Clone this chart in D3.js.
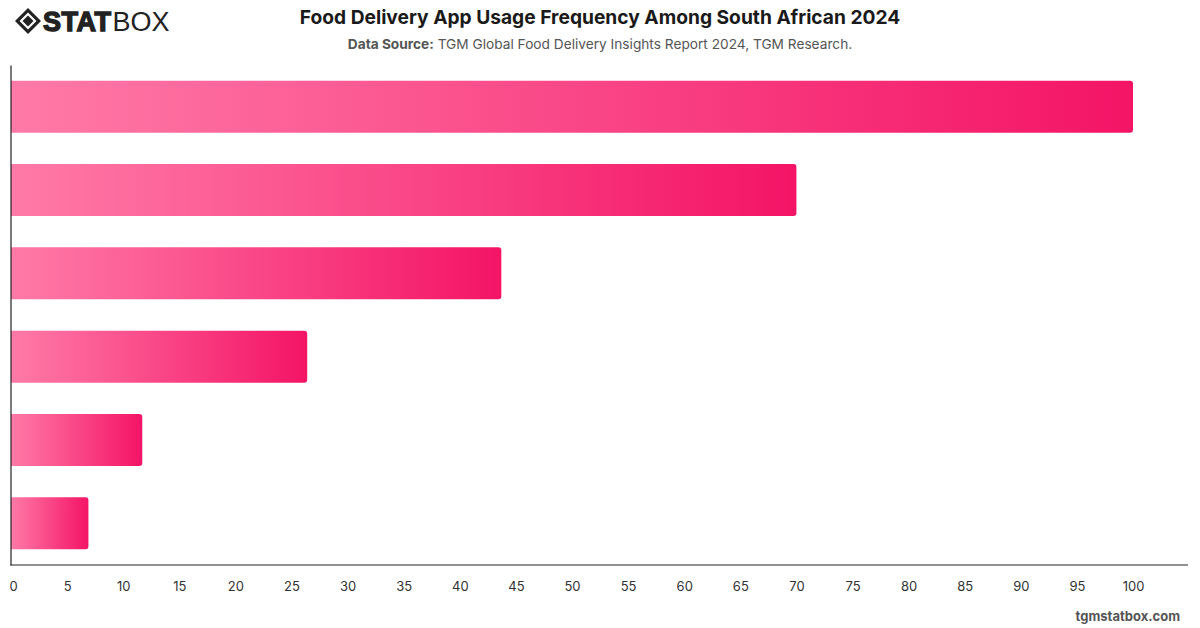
<!DOCTYPE html>
<html>
<head>
<meta charset="utf-8">
<script src="https://cdn.jsdelivr.net/npm/d3@7"></script>
<style>
  html, body { margin: 0; padding: 0; background: #fff; }
  svg { display: block; font-family: Inter, "Liberation Sans", Arial, sans-serif; }
</style>
</head>
<body>
<svg id="chart" width="1200" height="628"></svg>
<script>
const categories = ["Category 1", "Category 2", "Category 3", "Category 4", "Category 5", "Category 6"];
const values = [100, 70, 43.7, 26.4, 11.7, 6.9];
const tickValues = [0, 5, 10, 15, 20, 25, 30, 35, 40, 45, 50, 55, 60, 65, 70, 75, 80, 85, 90, 95, 100];
const titleText = "Food Delivery App Usage Frequency Among South African 2024";
const sourceLabel = "Data Source:";
const sourceText = " TGM Global Food Delivery Insights Report 2024, TGM Research.";
const footerText = "tgmstatbox.com";

const svg = d3.select("#chart");
const W = 1200, H = 628;
const margin = {left: 11, right: 12, top: 65, bottom: 63};

const x = d3.scaleLinear().domain([0, 104.9]).range([margin.left, W - margin.right]);
const y = d3.scaleBand().domain(categories).range([margin.top, H - margin.bottom]).paddingInner(0.376).paddingOuter(0.188);

// gradients
const defs = svg.append("defs");
values.forEach((v, i) => {
  const g = defs.append("linearGradient").attr("id", "grad" + i)
    .attr("x1", "0%").attr("x2", "100%").attr("y1", "0%").attr("y2", "0%");
  g.append("stop").attr("offset", "0%").attr("stop-color", "#ff7aa7");
  g.append("stop").attr("offset", "100%").attr("stop-color", "#f41466");
});

// bars: square left, rounded right
const r = 3;
svg.append("g").selectAll("path").data(values).join("path")
  .attr("d", (d, i) => {
    const x0 = x(0), x1 = x(d), y0 = y(categories[i]), h = y.bandwidth();
    return `M${x0},${y0} H${x1 - r} Q${x1},${y0} ${x1},${y0 + r} V${y0 + h - r} Q${x1},${y0 + h} ${x1 - r},${y0 + h} H${x0} Z`;
  })
  .attr("fill", (d, i) => `url(#grad${i})`);

// axes
const yAxis = d3.axisLeft(y).tickSize(0).tickFormat("");
svg.append("g").attr("transform", `translate(${x(0) - 0.5},0)`).call(yAxis)
  .call(g => g.select(".domain").attr("stroke", "#222").attr("stroke-width", 1.2));

const xAxis = d3.axisBottom(x).tickValues(tickValues).tickSize(0).tickPadding(17);
svg.append("g").attr("transform", `translate(0,${H - margin.bottom})`).call(xAxis)
  .call(g => g.select(".domain").attr("stroke", "#222").attr("stroke-width", 1.2).attr("d", `M${x(0) - 0.5},0H${W - margin.right}`))
  .call(g => g.selectAll("text").attr("fill", "#333").attr("font-size", 13)
    .attr("font-family", "Inter, 'Liberation Sans', Arial, sans-serif")
    .attr("dx", d => d === 0 ? 2 : 0));

// title
svg.append("text").attr("x", 600).attr("y", 24).attr("text-anchor", "middle")
  .attr("font-size", 19.2).attr("font-weight", 700).attr("fill", "#1a1a1a").text(titleText);
const sub = svg.append("text").attr("x", 600).attr("y", 49).attr("text-anchor", "middle")
  .attr("font-size", 13.7).attr("fill", "#555");
sub.append("tspan").attr("font-weight", 700).text(sourceLabel);
sub.append("tspan").text(sourceText);

// footer
svg.append("text").attr("x", 1180).attr("y", 621).attr("text-anchor", "end")
  .attr("font-size", 13).attr("font-weight", 700).attr("fill", "#555").text(footerText);

// logo
const logo = svg.append("g").attr("transform", "translate(15,8)");
logo.append("path").attr("d", "M13,0 L26,13 L13,26 L0,13 Z").attr("fill", "#222");
logo.append("path").attr("d", "M13,4.5 L21.5,13 L13,21.5 L4.5,13 Z").attr("fill", "#fff");
logo.append("path").attr("d", "M13,7.5 L18.5,13 L13,18.5 L7.5,13 Z").attr("fill", "#222");
const lt = logo.append("text").attr("x", 28).attr("y", 23).attr("font-size", 27).attr("fill", "#222")
  .attr("font-family", "'Liberation Sans', Arial, sans-serif");
lt.append("tspan").attr("font-weight", 700).attr("stroke", "#222").attr("stroke-width", 1.4).attr("letter-spacing", 0.5).text("STAT");
lt.append("tspan").attr("font-weight", 400).attr("dx", 1).text("BOX");
</script>
</body>
</html>
